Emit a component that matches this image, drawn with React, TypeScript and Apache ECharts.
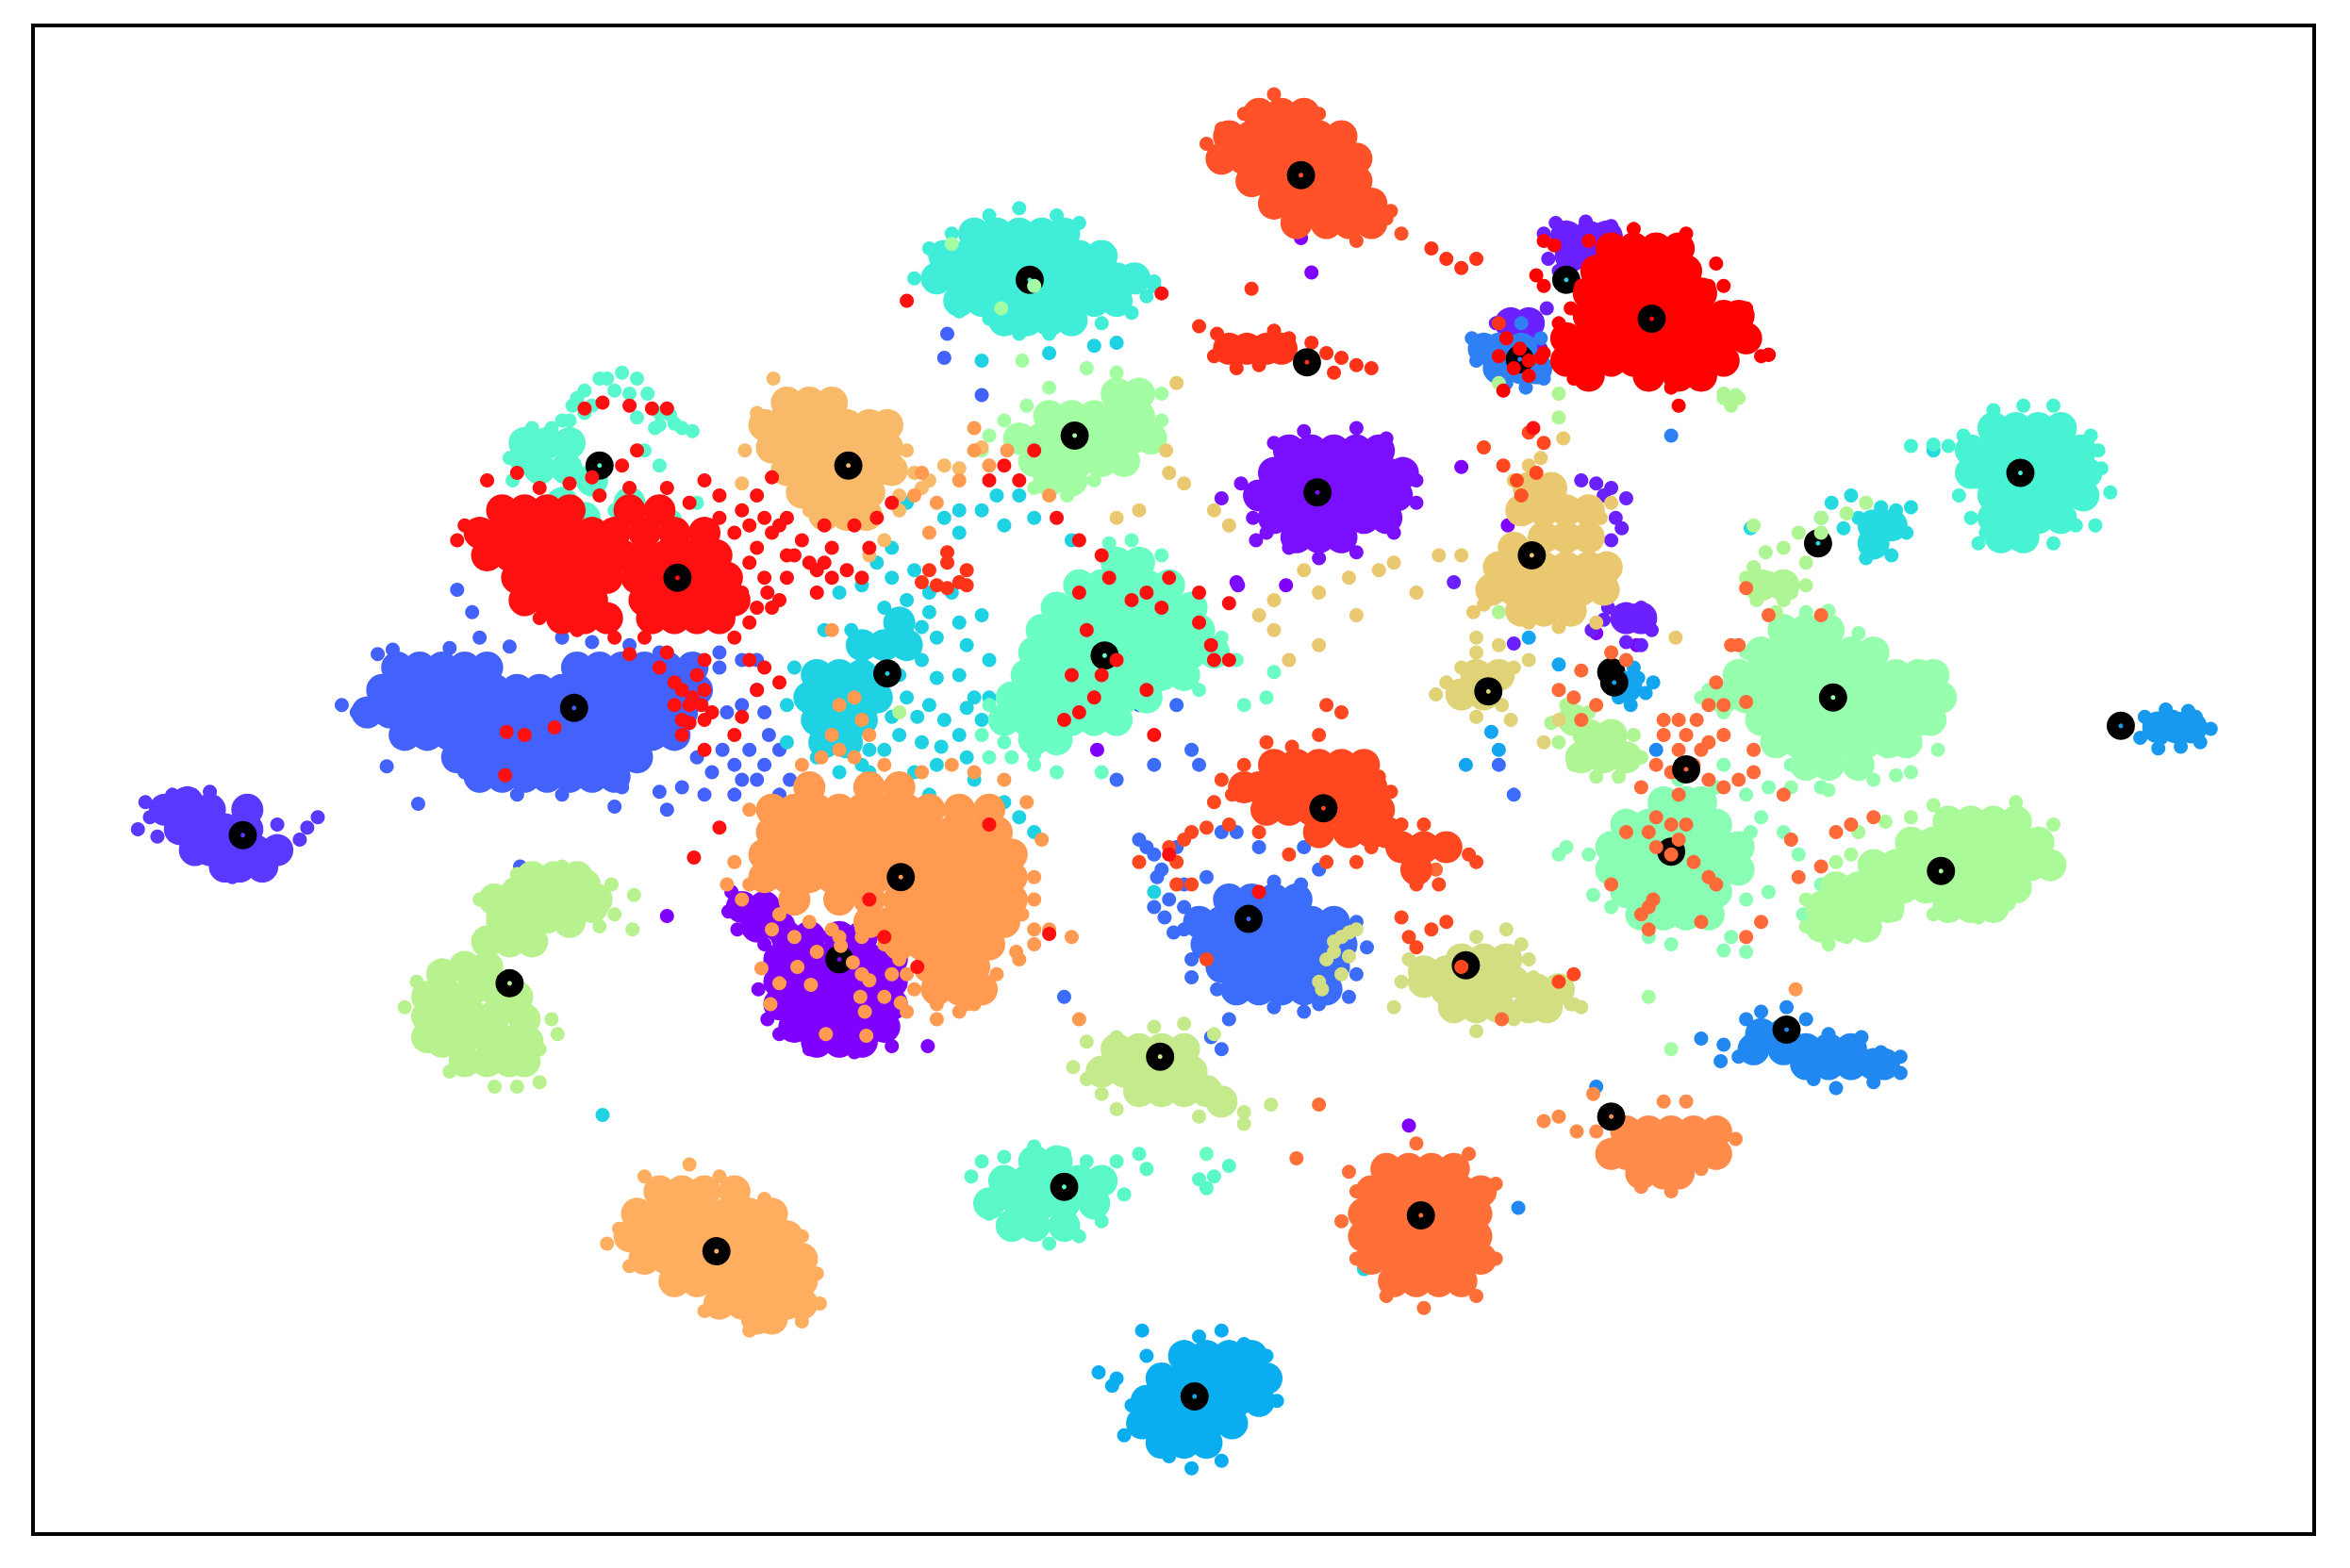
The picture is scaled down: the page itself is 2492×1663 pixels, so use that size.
import React, { useEffect, useRef } from "react";
import * as echarts from "echarts";

// Values are in picture units. Row lists: first number y, others x.
const aCore = [[605,495,510],[618,505,520],[625,525,540,560,575],[640,520,535,550,565,580,595],[655,520,535,550,565,580,595],[670,520,535,550,565,580,595],[685,530,545,560,575,590],[695,545,560,575]];
const aDots = [[488,595],[486,608],[492,620],[510,630],[506,660],[512,680],[520,690],[540,700],[570,702],[595,698],[619,698],[445,611],[875,181],[868,158],[940,751],[975,311],[732,500],[1006,350],[628,648],[608,570],[1092,430],[825,388],[858,390],[1065,422]];
const bCore = [[300,860,875,890,905,920],[315,850,865,880,895,910,925,936],[330,840,855,870,885,900,915,932],[345,850,865,880,895,910,925],[358,865,880,895]];
const bDots = [[815,332],[828,322],[836,345],[845,355],[850,295],[870,287],[905,285],[925,292],[945,320],[945,335],[905,368],[880,372],[838,360],[860,365],[930,355],[826,390],[760,405]];
const cCore = [[157,1045,1060,1072],[170,1048,1062],[215,1020,1008],[412,1085,1095]];
const cDots = [[1030,155],[1038,148],[1058,147],[1075,150],[1033,172],[1040,180],[1062,183],[1032,205],[998,215],[1028,232],[1055,320],[1065,322],[1075,325],[1085,332],[1078,345],[1070,330],[1082,352],[1075,360],[1073,405],[1095,405],[1102,420],[1085,428],[1095,430],[1070,413],[970,388],[1062,420],[1010,429]];
const dCore = [[535,125],[540,110,125,140,165],[553,120,135,150,165],[567,130,140,155,170,185],[578,150,160,175]];
const dDots = [[92,553],[100,545],[97,535],[115,530],[140,528],[165,535],[105,558],[125,563],[155,585],[172,583],[190,565],[205,552],[212,545],[200,560],[185,550]];
const eCore = [[445,265,280,295,310,325,385,400,415,430,445,462],[460,255,270,285,300,315,330,345,360,375,390,405,420,435,450,465],[475,245,260,275,290,305,320,335,350,365,380,395,410,425,440,455],[490,270,285,300,315,330,345,360,375,390,405,420,435,450],[505,305,320,335,350,365,380,395,410,425],[518,320,335,350,365,380,395,410]];
const eDots = [[228,470],[238,475],[252,436],[262,433],[300,432],[340,431],[375,425],[395,428],[420,430],[440,435],[480,435],[310,515],[345,530],[375,530],[415,525],[440,528],[465,505],[485,475],[305,393],[315,408],[320,425],[258,511],[279,536],[410,538],[495,470],[500,500],[510,475],[520,500],[527,520],[490,510],[482,500],[470,530],[520,530],[445,540],[490,530],[480,445],[495,440],[505,460],[630,238],[655,263],[632,222],[540,555],[347,578],[400,482],[505,520],[455,525],[475,515],[495,520],[510,510],[513,490],[505,440]];
const fCore = [[600,820,835,850,865],[615,800,815,830,845,860,875,890],[630,805,820,835,850,865,880,895],[645,815,830,845,860,875,890],[660,825,840,855,870,885]];
const fDots = [[783,622],[790,605],[795,640],[812,660],[795,652],[850,588],[868,590],[905,650],[905,615],[912,632],[850,672],[870,675],[770,605],[772,585],[765,565],[775,580],[785,565],[760,560],[780,600],[790,590],[770,570],[820,680],[808,692],[815,555],[840,565],[870,565],[880,580],[745,520],[770,510],[795,500],[760,470],[785,470],[710,665],[800,510],[825,555],[815,700],[1010,530],[1000,510],[880,670],[900,665],[790,620],[777,612],[805,585]];
const gCore = [[232,990,1000,1015],[245,1000,1015,1025]];
const gDots = [[1018,258],[1005,255],[982,225],[1028,225],[1015,215],[1030,252],[985,240],[1115,290]];
const hCore = [[690,1175,1190],[700,1170,1190,1205,1220,1235],[710,1205,1220,1235,1250,1257]];
const hDots = [[1150,697],[1160,705],[1165,680],[1175,675],[1192,672],[1205,680],[1220,690],[1242,692],[1268,705],[1268,716],[1250,722],[1225,726],[1135,693],[1148,708],[1210,720],[1255,702],[1065,725],[1013,806],[1105,500]];
const iCore = [[485,1440,1452,1462]];
const iDots = [[1431,478],[1445,473],[1460,474],[1475,486],[1468,495],[1455,498],[1440,499],[1428,492],[1450,478],[1442,492],[1465,478]];
const jCore = [[905,790,805,820,835],[920,775,790,805,820,835,845],[935,765,780,795,810,825,840],[950,762,777,792,807,822],[963,775,790,805]];
const jDots = [[733,916],[745,920],[755,938],[750,958],[765,905],[780,972],[795,980],[815,975],[852,935],[845,905],[815,888],[800,892],[830,897],[762,888],[742,925]];
const j2Core = [[458,1085]];
const j2Dots = [[1090,445],[1098,462],[1080,465],[1088,470],[1103,455],[1093,452],[1040,443],[1020,425],[1000,500],[995,488],[978,510]];
const kCore = [[415,600],[430,575,590,605],[450,545,560,575],[465,540,555,570,585],[480,545,560,575],[495,550,565]];
const kDots = [[605,335],[640,355],[620,395],[595,385],[610,380],[600,450],[615,440],[600,425],[625,425],[640,450],[650,465],[620,470],[630,480],[615,495],[600,490],[640,490],[655,480],[660,440],[645,430],[525,470],[525,495],[610,515],[625,510],[650,520],[670,535],[680,545],[690,555],[545,505],[590,500],[580,515],[560,515],[600,520],[620,530],[690,345],[680,330],[715,360],[665,330],[640,340],[630,345],[670,350],[655,340],[700,235],[730,230],[745,228],[655,240],[585,375],[575,390],[560,395],[590,405],[550,420],[530,445],[568,420],[620,408],[402,744],[1120,570],[770,595],[910,847],[580,500],[595,478],[575,510],[635,395],[655,410],[640,415],[625,452],[645,472],[660,465],[605,465],[612,478],[628,498],[645,505],[605,400],[615,418],[595,365]];
const k3Dots = [[1043,186]];
const k2Core = [[350,1250,1262],[362,1250]];
const k2Dots = [[1215,345],[1235,330],[1240,345],[1230,352],[1275,338],[1272,355],[1265,340],[1222,335],[1290,300],[1245,372],[1262,370],[1255,338],[1168,352]];
const lCore = [[155,650,665,680,695,710],[170,630,645,660,675,690,705,720,735],[185,625,640,655,670,685,700,715,730,745,757],[200,640,655,670,685,700,715,730,745],[213,670,685,700,715]];
const lDots = [[610,185],[620,165],[635,155],[660,143],[680,138],[705,143],[720,148],[770,187],[765,197],[755,208],[735,215],[700,222],[680,222],[660,212],[640,207],[770,190]];
const l2Core = [[285,1330,1345,1360,1375],[300,1315,1330,1345,1360,1375,1388],[315,1315,1320,1335,1350,1365,1380,1392],[330,1330,1345,1360,1375,1390],[345,1330,1345,1360,1375],[358,1335,1350]];
const l2Dots = [[1300,297],[1310,290],[1275,297],[1408,328],[1398,350],[1395,290],[1325,355],[1290,296],[1307,330],[1315,345],[1320,362],[1350,270],[1330,273],[1370,270],[1402,312],[1400,300],[1385,350],[1370,362]];
const mCore = [[295,350,365,380],[305,350],[312,360,378],[320,395],[335,420,375],[345,390,435]];
const mDots = [[382,270],[390,260],[400,252],[415,248],[425,252],[432,262],[440,275],[450,282],[462,287],[425,278],[440,283],[390,275],[375,280],[410,260],[420,262],[340,305],[345,295],[355,285],[368,285],[342,320],[335,335],[465,335],[450,345],[440,310],[430,300],[395,270],[405,252],[385,265],[437,285],[447,276],[455,285],[380,280],[410,340]];
const nCore = [[775,690,705],[788,670,685,700,720,735],[803,660,680,695,710,730],[818,675,690,710]];
const nDots = [[648,785],[655,775],[670,772],[690,765],[725,775],[745,775],[760,770],[765,780],[740,790],[750,797],[735,815],[720,825],[700,830],[680,820],[660,810],[800,787],[810,785],[820,778],[805,793],[710,770],[663,800]];
const oCore = [[375,745,760],[390,720,735,750,765,780],[405,705,720,735,750,765,780,795],[420,695,710,725,740,755,770,785,800],[435,690,705,720,735,750,765,780,795,810],[450,685,700,715,730,745,760,775,790],[465,675,690,705,720,735,750,765],[480,670,685,700,715,730,745],[493,690,705]];
const oDots = [[815,425],[825,440],[800,460],[660,470],[655,490],[670,495],[690,503],[740,362],[755,360],[775,370],[735,515],[705,515],[850,448],[845,465],[830,470],[690,510],[675,505],[805,770],[660,505]];
const pCore = [[535,1110,1125,1135],[550,1085,1100,1115,1130,1145],[565,1075,1090,1105,1120,1135,1150,1160],[580,1075,1090,1105,1120,1135,1150,1160],[595,1085,1100,1115,1130,1145],[610,1095,1110,1125,1140]];
const pDots = [[1060,570],[1045,565],[1040,570],[1063,597],[1075,605],[1100,625],[1115,630],[1150,634],[1168,555],[1175,545],[1165,600],[1180,595],[1200,570],[1215,590],[1203,610],[1190,555],[1165,635],[1155,625],[1120,520],[1145,525],[1150,510],[1215,525],[1180,525],[1195,510],[1165,530]];
const qCore = [[420,1190,1205,1220],[435,1175,1190,1205,1220,1235,1250],[450,1160,1175,1190,1205,1220,1235,1250,1265,1280,1290],[465,1150,1165,1180,1195,1210,1225,1240,1255,1270,1285,1295],[480,1175,1190,1205,1220,1235,1250,1265,1280,1288],[495,1185,1200,1215,1230,1245,1260,1272],[510,1205,1220,1240]];
const qDots = [[1140,460],[1135,465],[1250,520],[1265,517],[1275,515],[1293,500],[1205,408],[1220,407],[1165,435],[1185,418],[1220,527],[1195,525],[1150,475],[1240,422]];
const rCore = [[262,745,760],[277,700,715,730,745,760],[292,680,695,710,725,740,755,768],[307,690,705,720,735,750],[320,700,715]];
const rDots = [[660,290],[670,280],[685,270],[700,258],[725,245],[745,248],[775,262],[775,280],[712,330],[730,320],[690,325],[655,300],[682,240],[690,190],[635,162],[668,205],[1115,700],[1100,665]];
const sCore = [[548,1300,1315,1330,1345],[562,1275,1290,1305,1320,1335,1350,1360],[577,1250,1265,1280,1295,1310,1325,1340,1355,1368],[592,1225,1240,1255,1270,1285,1300,1315,1330,1345],[605,1215,1230,1245,1260,1300,1315,1330],[618,1215,1230,1245]];
const sDots = [[1275,545],[1290,537],[1345,535],[1370,550],[1205,600],[1205,618],[1220,630],[1232,625],[1265,610],[1290,610],[1340,603],[1320,612],[1258,548],[1240,555],[1235,570],[1225,575],[1150,265],[1158,263]];
const tCore = [[480,1050],[490,1060,1075],[505,1055,1070,1085],[390,1175,1190]];
const tDots = [[1040,495],[1035,482],[1045,470],[1060,475],[1090,490],[1095,505],[1080,518],[1065,518],[1050,510],[1170,378],[1165,385],[1178,368],[1200,355],[1215,345],[1170,350],[1195,395],[1172,400],[1205,375],[1215,355],[1040,262],[1040,278],[600,475],[1000,255],[1150,262],[1160,265],[1155,270],[1000,408],[1190,365],[1170,395],[1232,342],[1245,335],[1185,408],[1205,390],[1190,400],[1180,385]];
const uCore = [[585,355,370,385],[590,375,390],[595,345,360],[600,330,345,360,375,390,398],[605,380,395],[612,335,350,365],[615,335,380],[628,325,340,355],[645,310,325],[650,295],[660,315,330],[665,285,300,345],[678,285,300,330,315],[680,350],[692,285,310,325],[695,295,340,352],[708,310,325,340,350]];
const uDots = [[320,600],[345,583],[375,578],[408,590],[410,610],[423,597],[422,620],[400,618],[270,672],[278,655],[280,695],[300,715],[330,725],[360,700],[372,690],[368,680],[360,722],[345,725]];
const vCore = [[700,760,775,790,745],[715,735,750,765,780,795],[728,760,775,790,805],[735,815]];
const vDots = [[716,712],[725,695],[745,692],[790,683],[810,690],[830,742],[848,737],[800,745],[830,750],[745,740],[725,720],[735,730],[770,685]];
const wCore = [[640,975,990,1005],[648,950,965],[655,950,995,1010],[660,965,980,1025,1040],[672,970,985,1000,1020,1032]];
const wDots = [[935,655],[940,640],[1005,620],[1005,635],[1020,640],[1050,670],[1055,672],[985,688],[1010,680],[930,672],[885,640],[895,625],[905,620],[880,655],[890,628],[900,622],[882,660],[895,650],[1023,652],[985,625],[1015,630],[1048,670],[1030,672],[900,638],[890,635]];
const xCore = [[450,985,1000],[463,975,990]];
const xDots = [[958,463],[965,455],[975,445],[985,435],[985,425],[1000,430],[1010,445],[1020,440],[1002,470],[1008,480],[985,478],[1030,495],[1040,480]];
const yCore = [[325,1020,1035],[340,1015,1030,1045,1060],[358,1030,1045,1060],[365,1010],[378,1000,1015,1030,1045,1060,1072],[393,995,1010,1025,1040,1055,1070],[407,1015,1030,1048]];
const yDots = [[1068,345],[1075,335],[983,408],[990,403],[1040,418],[1020,415],[1020,310],[1010,320],[1028,305],[850,400],[840,410],[870,380],[880,395],[900,385],[920,380],[850,420],[860,440],[880,430],[905,410],[930,375],[945,395],[960,370],[810,340],[820,350],[790,322],[778,300],[780,315],[760,340],[745,345],[975,370],[1118,425],[1065,415],[1043,292],[785,255]];
const zCore = [[268,525,540,555],[283,510,520,535,550,565,580,592],[298,515,530,545,560,575,592],[313,525,540,555,570,585,595],[328,535,550,565,580],[343,550,565,578]];
const zDots = [[516,252],[505,275],[497,300],[510,300],[590,285],[605,300],[610,315],[600,340],[590,360],[580,370],[600,330],[540,340],[590,300],[615,325],[495,322],[640,312],[655,298],[620,320],[630,310]];
const aaCore = [[795,440,455,470,490],[810,425,440,455,470,485,500,515],[825,420,435,450,465,480,495,510,525],[840,430,445,460,475,490,505,520,535],[855,450,465,480,495,510,525,535],[870,480,495,510,525,535],[880,505,515]];
const aaDots = [[405,830],[413,820],[430,785],[460,777],[480,785],[510,800],[535,825],[545,850],[547,870],[535,882],[500,888],[470,875],[420,845]];
const abCore = [[525,540,580,600],[540,515,530,545,560,575,590,605,620,640,660],[555,515,530,545,560,575,590,605,620,635,650,665],[570,510,525,540,555,570,585,600,615,630,645,660,675],[585,510,525,540,555,570,585,600,615,630,645,660,675],[600,530,560,580,600,615,630,645,660,675],[615,580,595,610,625,640,655,670],[630,600,615,630,645,660],[645,620,635,650],[660,625,640,655]];
const abDots = [[485,590],[495,600],[500,540],[490,575],[530,625],[545,635],[560,625],[575,625],[595,650],[590,665],[575,650],[605,675],[625,680],[645,670],[665,650],[690,600],[690,585],[695,560],[685,535],[670,520],[650,515],[635,510],[615,515],[590,510],[570,505],[548,505],[535,510],[615,315],[640,320],[625,335],[610,330],[650,285],[672,300],[650,300],[660,310],[700,330],[720,680],[1198,660],[560,470],[575,480],[555,490],[560,500],[580,490],[570,465],[620,355],[555,420],[715,625],[700,620],[680,640],[532,645],[541,657],[574,665],[577,675],[551,690],[578,691],[514,670],[520,656],[580,654],[601,669],[508,646],[561,631],[569,642],[540,615],[555,620],[575,620],[590,630],[600,640],[605,650],[620,655],[515,620],[520,610],[500,590],[625,670],[640,675],[650,670],[660,660],[610,660],[682,610],[690,620],[678,635],[690,630]];
const acCore = [[755,1085,1100,1115,1130,1145],[770,1075,1085,1100,1115,1130,1145],[783,1095,1110,1120]];
const acDots = [[1030,748],[1040,745],[1052,755],[1065,755],[1063,730],[1110,735],[1125,735],[1158,760],[1135,780],[1115,795],[1095,792],[1070,768]];
const adCore = [[780,925,940,955,970],[795,915,930,945,960,975,988],[810,910,925,940,955,970,985],[825,910,925,940,955,970,985],[840,915,930,945,960,975,988],[855,930,945,960,975]];
const adDots = [[900,782],[895,815],[905,840],[925,865],[950,873],[985,865],[998,840],[998,790],[980,770],[945,763],[905,795],[865,773],[880,737]];
const aeDots = [[1125,490],[1110,490],[1135,500],[1140,495],[1150,490],[1120,500],[1130,510],[1140,520],[1150,525],[1160,520],[1170,515],[1110,480],[1120,480],[1132,480],[1140,470],[1150,470],[1165,468],[1170,500],[1105,510],[1095,525],[1105,545],[1120,530],[1115,550],[1125,550],[1115,570],[1120,560],[1105,565],[1130,575],[1100,555],[1140,585],[1085,555],[1055,480],[1040,460],[1050,465],[1065,470],[1055,447],[1075,435],[1085,440],[1155,430],[1100,605],[1095,610],[1075,590],[1100,620],[1103,600],[1145,590],[1165,625],[1175,615],[1135,615],[1225,555],[1235,550],[1215,578],[1200,585],[1195,560],[1190,530],[1250,545],[1115,515],[1145,455],[1215,410],[1165,392],[958,580],[1002,680],[1160,430],[1180,410]];
const afCore = [[75,840,855,870],[90,820,835,850,865,880,895],[105,815,830,845,860,875,890,905],[120,835,845,860,875,890,905],[135,850,860,875,890,905,915],[148,865,885,900,915]];
const afDots = [[805,95],[815,85],[830,75],[850,62],[880,75],[890,95],[820,105],[835,125],[850,140],[865,150],[925,145],[935,155],[928,140],[905,160],[863,152],[1015,330]];
const agCore = [[510,850,865,880,895,910],[525,830,840,855,870,885,900,915],[540,845,860,875,890,905,920],[555,880,900,915,925],[565,935,950,965],[580,945]];
const agDots = [[830,510],[815,520],[810,535],[822,530],[845,495],[862,498],[885,470],[895,475],[880,490],[920,518],[928,528],[925,540],[920,560],[935,550],[950,550],[980,570],[985,575],[960,590],[945,590],[820,550],[805,552],[795,555],[790,560],[840,555],[860,570],[885,575],[905,575],[915,565],[780,565],[785,575],[795,590],[785,590],[805,640],[760,575],[940,625],[945,632],[955,620],[965,615],[935,612],[1030,295],[1020,288],[1025,315],[1012,320],[990,298],[1003,310],[1040,655],[1050,650],[975,645]];
const ahCore = [[232,820,832,845,855]];
const ahDots = [[800,217],[812,222],[810,237],[825,245],[840,243],[850,220],[860,225],[885,235],[895,238],[905,243],[915,245],[875,228],[890,248],[955,165],[965,172],[975,178],[985,172],[620,380],[632,375],[645,380],[632,392],[625,390],[640,388],[632,368],[615,388],[645,390],[835,192],[1000,215]];
const aiCore = [[340,335,350,365,380,420,440],[355,320,335,350,365,380,395,410,430,450,470],[370,325,340,355,370,385,400,415,430,445,460,478],[385,345,360,375,390,405,425,440,455,470,485],[400,350,365,380,395,430,445,460,475,490],[412,375,390,405,435,450,465,480]];
const aiDots = [[390,272],[402,268],[420,270],[435,272],[445,272],[415,310],[425,300],[395,318],[515,318],[480,345],[505,330],[470,320],[530,370],[540,375],[555,365],[525,385],[520,400],[505,405],[490,425],[500,440],[510,445],[520,455],[505,460],[470,460],[460,470],[470,480],[455,490],[495,478],[470,500],[420,436],[470,440],[445,435],[465,450],[455,460],[440,445],[490,490],[338,488],[337,517],[350,490],[550,350],[570,350],[585,345],[595,335],[525,345],[505,365],[515,355],[545,395],[565,380],[580,365],[575,385],[690,300],[680,320],[670,310],[660,320],[705,345],[720,360],[735,370],[740,385],[765,395],[780,385],[800,395],[775,405],[755,400],[720,395],[725,420],[715,450],[735,450],[745,440],[720,475],[710,480],[730,465],[820,402],[800,415],[808,430],[810,440],[605,200],[775,195],[820,440],[765,460],[770,490],[590,625],[612,645],[480,552],[463,572],[660,550],[700,623],[840,595],[1023,285],[325,320],[345,315],[310,350],[305,360],[430,425],[410,425],[385,420],[360,412],[780,570],[580,600],[495,340],[490,355],[500,350],[510,345],[520,350],[500,375],[510,385],[495,395],[480,330],[460,335],[445,325],[420,325],[400,330],[380,322],[360,325],[455,480],[462,465],[450,470],[468,470],[475,475],[460,482],[450,455],[345,340],[370,485],[525,370],[535,360],[545,380],[550,375],[555,385],[512,395],[500,415],[515,405]];
const ajCore = [[165,1075,1090,1105,1120],[180,1065,1080,1095,1110,1125],[195,1060,1075,1090,1105,1120,1135],[210,1060,1075,1090,1105,1120,1135,1150,1160],[225,1045,1060,1075,1090,1105,1120,1135,1150,1165],[240,1045,1060,1075,1090,1105,1120,1135,1150],[250,1060,1100,1120,1135]];
const ajDots = [[1030,235],[1040,215],[1175,237],[1165,205],[1150,190],[1145,175],[1140,190],[1060,160],[1180,236],[1125,155],[1090,152],[1010,245],[1020,250],[1115,258],[1120,270],[1030,160],[1037,163],[1025,183],[1060,185],[1028,238],[1020,240],[1005,225],[1000,237],[1014,232],[1003,260],[1050,252],[1030,190],[1048,205],[1055,190],[1180,236]];

type Cls = { color: string; core?: number[][]; dots: number[][]; center?: number[] };
const classes: Cls[] = [
  { color: "#8000ff", core: aCore, dots: aDots, center: [560, 640] },
  { color: "#7a0fff", core: bCore, dots: bDots, center: [879, 328] },
  { color: "#6a20ff", core: cCore, dots: cDots, center: [1075, 448] },
  { color: "#5a38ff", core: dCore, dots: dDots, center: [162, 557] },
  { color: "#4361fb", core: eCore, dots: eDots, center: [383, 472] },
  { color: "#3b6cfa", core: fCore, dots: fDots, center: [833, 613] },
  { color: "#2f7ff5", core: gCore, dots: gDots, center: [1014, 239] },
  { color: "#2088f0", core: hCore, dots: hDots, center: [1192, 687] },
  { color: "#1899f0", core: iCore, dots: iDots, center: [1415, 484] },
  { color: "#14a5f0", core: j2Core, dots: j2Dots, center: [1077, 455] },
  { color: "#0aaef0", core: jCore, dots: jDots, center: [797, 932] },
  { color: "#1ed2e4", core: kCore, dots: kDots, center: [592, 449] },
  { color: "#21d6e2", dots: k3Dots, center: [1045, 186] },
  { color: "#26dbdf", core: k2Core, dots: k2Dots, center: [1213, 362] },
  { color: "#40edd8", core: lCore, dots: lDots, center: [687, 186] },
  { color: "#47f3d3", core: l2Core, dots: l2Dots, center: [1348, 315] },
  { color: "#58f7cd", core: mCore, dots: mDots, center: [400, 310] },
  { color: "#5af8c8", core: nCore, dots: nDots, center: [710, 792] },
  { color: "#6afdc4", core: oCore, dots: oDots, center: [737, 437] },
  { color: "#8afdb4", core: pCore, dots: pDots, center: [1115, 568] },
  { color: "#96feac", core: qCore, dots: qDots, center: [1223, 465] },
  { color: "#a3fea3", core: rCore, dots: rDots, center: [717, 290] },
  { color: "#aafa9a", core: sCore, dots: sDots, center: [1295, 581] },
  { color: "#b0f594", core: tCore, dots: tDots },
  { color: "#b8f28e", core: uCore, dots: uDots, center: [340, 656] },
  { color: "#c4ea8b", core: vCore, dots: vDots, center: [774, 705] },
  { color: "#d2de81", core: wCore, dots: wDots, center: [978, 644] },
  { color: "#e0d277", core: xCore, dots: xDots, center: [993, 461] },
  { color: "#eac870", core: yCore, dots: yDots, center: [1022, 370] },
  { color: "#f8b968", core: zCore, dots: zDots, center: [566, 310] },
  { color: "#ffae60", core: aaCore, dots: aaDots, center: [478, 835] },
  { color: "#ff9a50", core: abCore, dots: abDots, center: [601, 585] },
  { color: "#ff8c4a", core: acCore, dots: acDots, center: [1075, 745] },
  { color: "#ff6f38", core: adCore, dots: adDots, center: [948, 811] },
  { color: "#ff6a38", dots: aeDots, center: [1125, 513] },
  { color: "#ff5228", core: afCore, dots: afDots, center: [868, 116] },
  { color: "#ff4820", core: agCore, dots: agDots, center: [883, 539] },
  { color: "#ff3317", core: ahCore, dots: ahDots, center: [872, 241] },
  { color: "#ff1010", core: aiCore, dots: aiDots, center: [452, 385] },
  { color: "#ff0000", core: ajCore, dots: ajDots, center: [1102, 212] },
];

const unrow = (rows: number[][]) => rows.flatMap(([y, ...xs]) => xs.map((x) => [x, y]));
const scatter = (data: number[][], size: number, color: string) => ({
  type: "scatter", data, symbolSize: size, silent: true, itemStyle: { color, opacity: 1 },
});

export default function App() {
  const ref = useRef<HTMLDivElement>(null);
  useEffect(() => {
    document.body.style.margin = "0";
    const chart = echarts.init(ref.current!, null, { renderer: "svg" });
    const series: any[] = [];
    for (const c of classes) {
      if (c.core) series.push(scatter(unrow(c.core), 34, c.color));
      series.push(scatter(c.dots, 15, c.color));
      if (c.center) {
        series.push(scatter([c.center], 30, "#000000"));
        series.push(scatter([c.center], 5, c.color));
      }
    }
    chart.setOption({
      animation: false,
      backgroundColor: "#ffffff",
      grid: { left: 35, top: 27, width: 2419, height: 1600, show: true, borderColor: "#000000", borderWidth: 4, backgroundColor: "transparent" },
      xAxis: { type: "value", min: 22, max: 1544, show: false },
      yAxis: { type: "value", min: 16, max: 1024, inverse: true, show: false },
      series,
    });
    return () => chart.dispose();
  }, []);
  return <div ref={ref} style={{ width: 2492, height: 1663, position: "absolute", left: 0, top: 0 }} />;
}
